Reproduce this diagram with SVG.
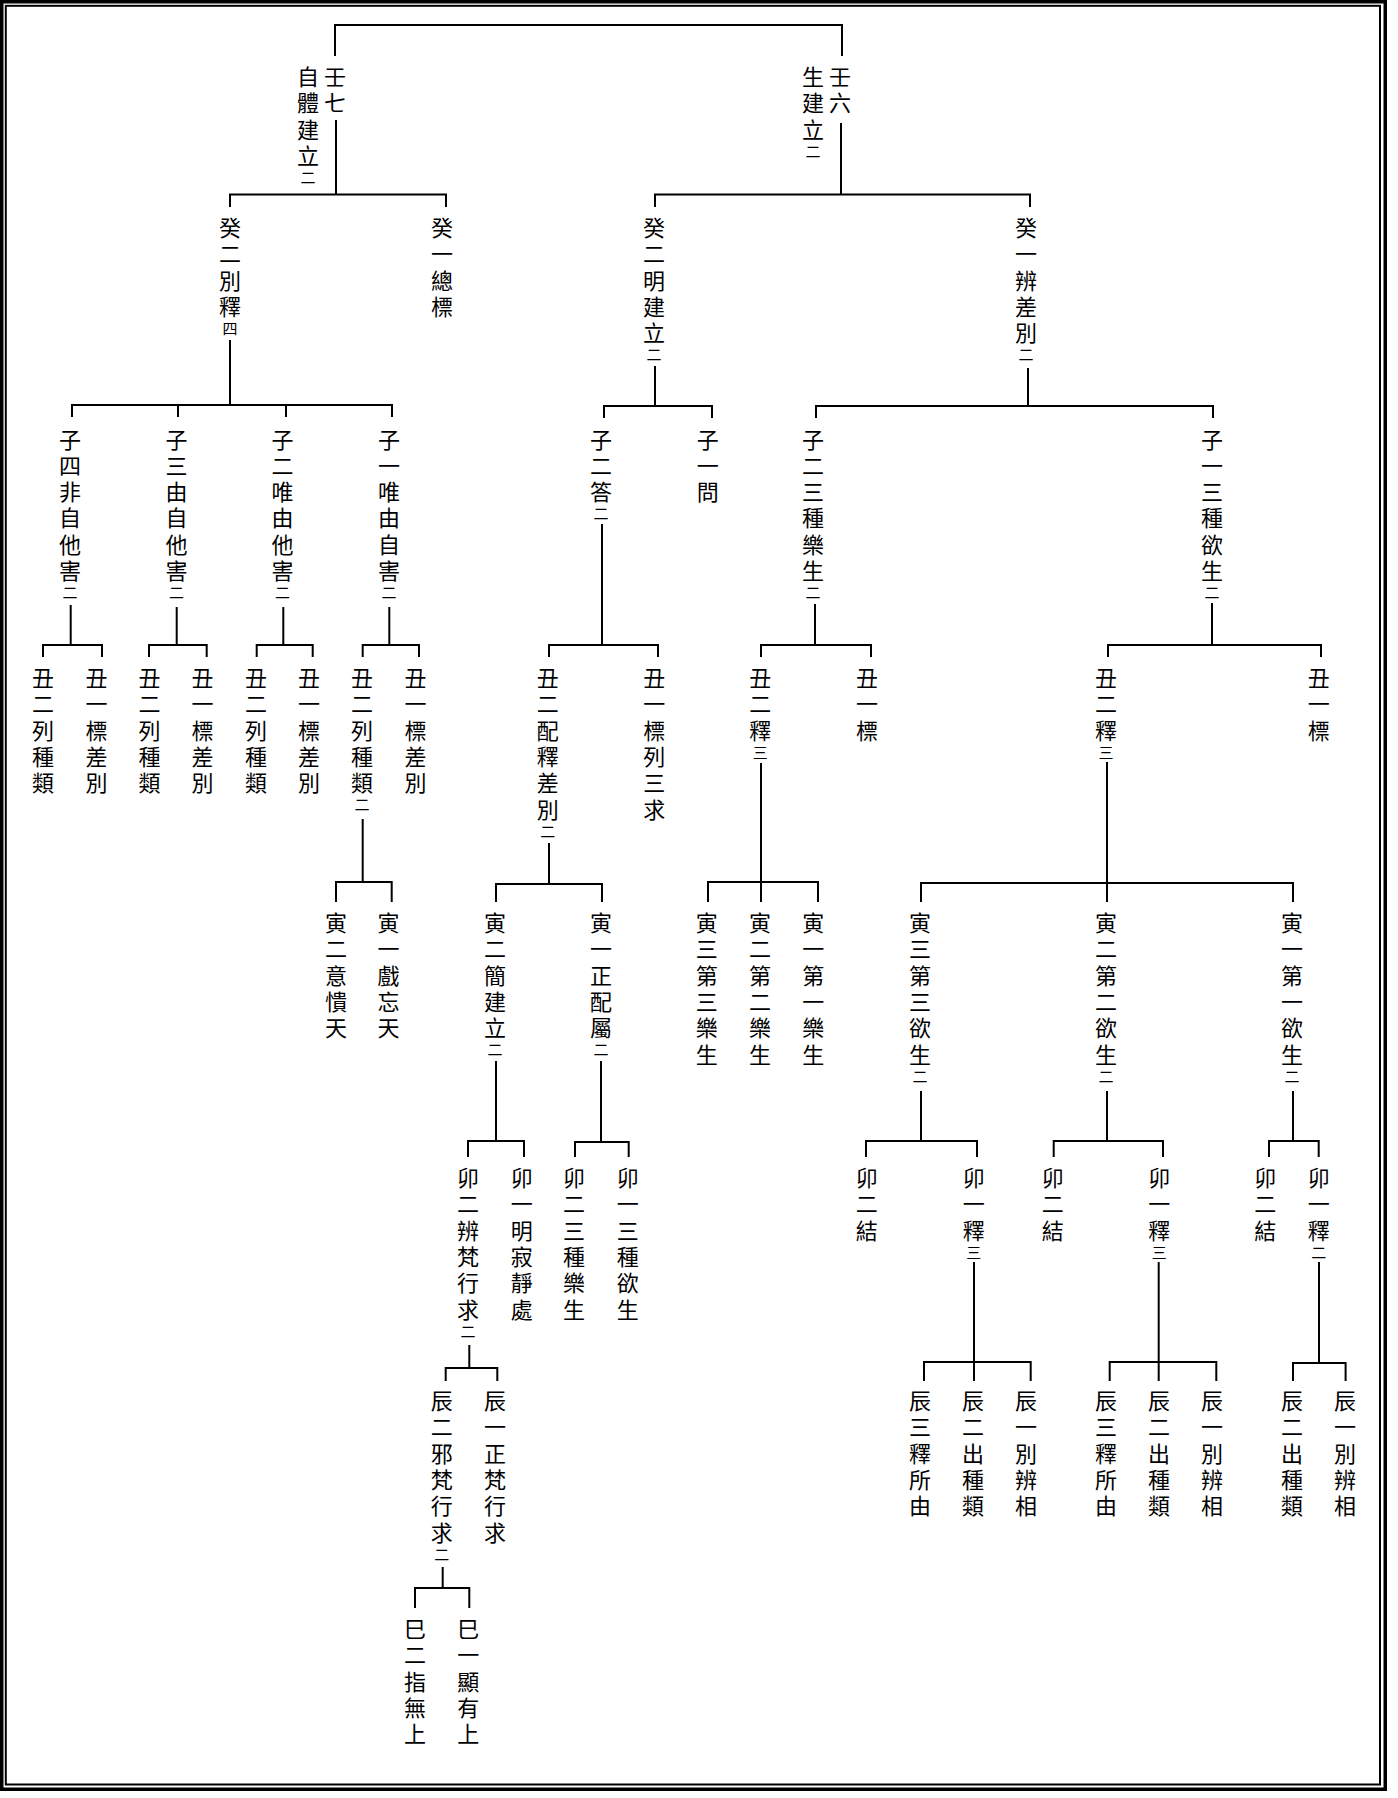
<svg xmlns="http://www.w3.org/2000/svg" width="1398" height="1798" viewBox="0 0 1398 1798">
<style>
.t{font-family:"Noto Sans CJK TC","Noto Sans CJK JP",sans-serif;font-size:22px;text-anchor:middle;dominant-baseline:central;fill:#000}
.s{font-size:15px}
.c path{fill:none;stroke:#000;stroke-width:2}
</style>
<rect x="0" y="0" width="1398" height="1798" fill="#fff"/>
<rect x="1.75" y="1.75" width="1383.5" height="1787.5" fill="none" stroke="#000" stroke-width="3.5"/>
<rect x="5.8" y="5.8" width="1374.2" height="1778.7" fill="none" stroke="#000" stroke-width="2"/>
<g class="c" id="connectors">
<path d="M335,56 V25 H842 V56"/>
<path d="M336,120 V194.5"/><path d="M230,207 V194.5 H446 V207"/>
<path d="M841,123 V194.5"/><path d="M655,207 V194.5 H1030 V207"/>
<path d="M230,340 V405"/><path d="M72,417 V405 H392 V417"/><path d="M178,405 V417"/><path d="M286,405 V417"/>
<path d="M655,366 V406"/><path d="M604,418 V406 H712 V418"/>
<path d="M1028,368 V406"/><path d="M816,418 V406 H1213 V418"/>
<path d="M70.7,605 V645"/><path d="M43,657 V645 H102 V657"/>
<path d="M176.7,607 V645"/><path d="M149,657 V645 H206.7 V657"/>
<path d="M283.3,607 V645"/><path d="M256.7,657 V645 H312.7 V657"/>
<path d="M389.3,607 V645"/><path d="M362.7,657 V645 H419 V657"/>
<path d="M362.7,819 V882"/><path d="M336,902 V882 H391.7 V902"/>
<path d="M602,524 V645"/><path d="M549,657 V645 H658 V657"/>
<path d="M815,604 V645"/><path d="M761,657 V645 H871 V657"/>
<path d="M1212,603 V645"/><path d="M1108,657 V645 H1321 V657"/>
<path d="M549,843 V884"/><path d="M496,902 V884 H602 V902"/>
<path d="M761,763 V902"/><path d="M708,902 V882 H818 V902"/>
<path d="M1107,762 V902"/><path d="M921,902 V883 H1293 V902"/>
<path d="M496,1061 V1141"/><path d="M468,1157 V1141 H524 V1157"/>
<path d="M601,1061 V1142"/><path d="M575,1157 V1142 H628.7 V1157"/>
<path d="M921,1091 V1141"/><path d="M866,1157 V1141 H977 V1157"/>
<path d="M1107,1091 V1141"/><path d="M1053.7,1157 V1141 H1163 V1157"/>
<path d="M1293,1091 V1141"/><path d="M1269,1157 V1141 H1318.7 V1157"/>
<path d="M974,1262 V1381"/><path d="M924,1381 V1362 H1030.7 V1381"/>
<path d="M1158.7,1262 V1381"/><path d="M1109.7,1381 V1362 H1216.3 V1381"/>
<path d="M1319,1262 V1363"/><path d="M1293,1381 V1363 H1345.6 V1381"/>
<path d="M469.3,1345 V1368"/><path d="M445.7,1381 V1368 H497.3 V1381"/>
<path d="M442.7,1567 V1588"/><path d="M415,1608 V1588 H469.3 V1608"/>
</g>
<g id="n-ren7"><text class="t" x="335 335" y="75 101.3">壬七</text><text class="t" x="308 308 308 308 308" y="75 101.3 127.6 153.9 176">自體建立<tspan class="s">二</tspan></text></g>
<g id="n-ren6"><text class="t" x="840 840" y="75 101.3">壬六</text><text class="t" x="813 813 813 813" y="75 101.3 127.6 149.6">生建立<tspan class="s">二</tspan></text></g>
<g id="n-gui2a"><text class="t" x="230 230 230 230 230" y="226 252.3 278.6 304.9 326.9">癸二別釋<tspan class="s">四</tspan></text></g>
<g id="n-gui1a"><text class="t" x="442 442 442 442" y="226 252.3 278.6 304.9">癸一總標</text></g>
<g id="n-gui2b"><text class="t" x="654 654 654 654 654 654" y="226 252.3 278.6 304.9 331.2 353.2">癸二明建立<tspan class="s">二</tspan></text></g>
<g id="n-gui1b"><text class="t" x="1026 1026 1026 1026 1026 1026" y="226 252.3 278.6 304.9 331.2 353.2">癸一辨差別<tspan class="s">二</tspan></text></g>
<g id="n-zi4"><text class="t" x="70 70 70 70 70 70 70" y="437.5 463.8 490.1 516.4 542.7 569 591">子四非自他害<tspan class="s">二</tspan></text></g>
<g id="n-zi3"><text class="t" x="176.5 176.5 176.5 176.5 176.5 176.5 176.5" y="437.5 463.8 490.1 516.4 542.7 569 591">子三由自他害<tspan class="s">二</tspan></text></g>
<g id="n-zi2a"><text class="t" x="282.5 282.5 282.5 282.5 282.5 282.5 282.5" y="437.5 463.8 490.1 516.4 542.7 569 591">子二唯由他害<tspan class="s">二</tspan></text></g>
<g id="n-zi1a"><text class="t" x="389 389 389 389 389 389 389" y="437.5 463.8 490.1 516.4 542.7 569 591">子一唯由自害<tspan class="s">二</tspan></text></g>
<g id="n-zi2b"><text class="t" x="601 601 601 601" y="437.5 463.8 490.1 512.1">子二答<tspan class="s">二</tspan></text></g>
<g id="n-zi1b"><text class="t" x="707.7 707.7 707.7" y="437.5 463.8 490.1">子一問</text></g>
<g id="n-zi2c"><text class="t" x="813 813 813 813 813 813 813" y="437.5 463.8 490.1 516.4 542.7 569 591">子二三種樂生<tspan class="s">二</tspan></text></g>
<g id="n-zi1c"><text class="t" x="1212 1212 1212 1212 1212 1212 1212" y="437.5 463.8 490.1 516.4 542.7 569 591">子一三種欲生<tspan class="s">二</tspan></text></g>
<g id="n-chou2a"><text class="t" x="43 43 43 43 43" y="676 702.3 728.6 754.9 781.2">丑二列種類</text></g>
<g id="n-chou1a"><text class="t" x="96.5 96.5 96.5 96.5 96.5" y="676 702.3 728.6 754.9 781.2">丑一標差別</text></g>
<g id="n-chou2b"><text class="t" x="149.5 149.5 149.5 149.5 149.5" y="676 702.3 728.6 754.9 781.2">丑二列種類</text></g>
<g id="n-chou1b"><text class="t" x="202.5 202.5 202.5 202.5 202.5" y="676 702.3 728.6 754.9 781.2">丑一標差別</text></g>
<g id="n-chou2c"><text class="t" x="256 256 256 256 256" y="676 702.3 728.6 754.9 781.2">丑二列種類</text></g>
<g id="n-chou1c"><text class="t" x="309 309 309 309 309" y="676 702.3 728.6 754.9 781.2">丑一標差別</text></g>
<g id="n-chou2d"><text class="t" x="362 362 362 362 362 362" y="676 702.3 728.6 754.9 781.2 803.2">丑二列種類<tspan class="s">二</tspan></text></g>
<g id="n-chou1d"><text class="t" x="415.5 415.5 415.5 415.5 415.5" y="676 702.3 728.6 754.9 781.2">丑一標差別</text></g>
<g id="n-chou2e"><text class="t" x="547.7 547.7 547.7 547.7 547.7 547.7 547.7" y="676 702.3 728.6 754.9 781.2 807.5 829.5">丑二配釋差別<tspan class="s">二</tspan></text></g>
<g id="n-chou1e"><text class="t" x="654.3 654.3 654.3 654.3 654.3 654.3" y="676 702.3 728.6 754.9 781.2 807.5">丑一標列三求</text></g>
<g id="n-chou2f"><text class="t" x="760.3 760.3 760.3 760.3" y="676 702.3 728.6 750.6">丑二釋<tspan class="s">三</tspan></text></g>
<g id="n-chou1f"><text class="t" x="867 867 867" y="676 702.3 728.6">丑一標</text></g>
<g id="n-chou2g"><text class="t" x="1106 1106 1106 1106" y="676 702.3 728.6 750.6">丑二釋<tspan class="s">三</tspan></text></g>
<g id="n-chou1g"><text class="t" x="1318.7 1318.7 1318.7" y="676 702.3 728.6">丑一標</text></g>
<g id="n-yin2a"><text class="t" x="336 336 336 336 336" y="921 947.3 973.6 999.9 1026.2">寅二意憒天</text></g>
<g id="n-yin1a"><text class="t" x="388.5 388.5 388.5 388.5 388.5" y="921 947.3 973.6 999.9 1026.2">寅一戲忘天</text></g>
<g id="n-yin2b"><text class="t" x="495 495 495 495 495 495" y="921 947.3 973.6 999.9 1026.2 1048.2">寅二簡建立<tspan class="s">二</tspan></text></g>
<g id="n-yin1b"><text class="t" x="601 601 601 601 601 601" y="921 947.3 973.6 999.9 1026.2 1048.2">寅一正配屬<tspan class="s">二</tspan></text></g>
<g id="n-yin3c"><text class="t" x="706.7 706.7 706.7 706.7 706.7 706.7" y="921 947.3 973.6 999.9 1026.2 1052.5">寅三第三樂生</text></g>
<g id="n-yin2c"><text class="t" x="760 760 760 760 760 760" y="921 947.3 973.6 999.9 1026.2 1052.5">寅二第二樂生</text></g>
<g id="n-yin1c"><text class="t" x="813.3 813.3 813.3 813.3 813.3 813.3" y="921 947.3 973.6 999.9 1026.2 1052.5">寅一第一樂生</text></g>
<g id="n-yin3d"><text class="t" x="920 920 920 920 920 920 920" y="921 947.3 973.6 999.9 1026.2 1052.5 1074.5">寅三第三欲生<tspan class="s">二</tspan></text></g>
<g id="n-yin2d"><text class="t" x="1106 1106 1106 1106 1106 1106 1106" y="921 947.3 973.6 999.9 1026.2 1052.5 1074.5">寅二第二欲生<tspan class="s">二</tspan></text></g>
<g id="n-yin1d"><text class="t" x="1292 1292 1292 1292 1292 1292 1292" y="921 947.3 973.6 999.9 1026.2 1052.5 1074.5">寅一第一欲生<tspan class="s">二</tspan></text></g>
<g id="n-mao2a"><text class="t" x="468 468 468 468 468 468 468" y="1176 1202.3 1228.6 1254.9 1281.2 1307.5 1329.5">卯二辨梵行求<tspan class="s">二</tspan></text></g>
<g id="n-mao1a"><text class="t" x="521.7 521.7 521.7 521.7 521.7 521.7" y="1176 1202.3 1228.6 1254.9 1281.2 1307.5">卯一明寂靜處</text></g>
<g id="n-mao2b"><text class="t" x="574 574 574 574 574 574" y="1176 1202.3 1228.6 1254.9 1281.2 1307.5">卯二三種樂生</text></g>
<g id="n-mao1b"><text class="t" x="627.7 627.7 627.7 627.7 627.7 627.7" y="1176 1202.3 1228.6 1254.9 1281.2 1307.5">卯一三種欲生</text></g>
<g id="n-mao2c"><text class="t" x="866.7 866.7 866.7" y="1176 1202.3 1228.6">卯二結</text></g>
<g id="n-mao1c"><text class="t" x="973.7 973.7 973.7 973.7" y="1176 1202.3 1228.6 1250.6">卯一釋<tspan class="s">三</tspan></text></g>
<g id="n-mao2d"><text class="t" x="1052.7 1052.7 1052.7" y="1176 1202.3 1228.6">卯二結</text></g>
<g id="n-mao1d"><text class="t" x="1159.3 1159.3 1159.3 1159.3" y="1176 1202.3 1228.6 1250.6">卯一釋<tspan class="s">三</tspan></text></g>
<g id="n-mao2e"><text class="t" x="1265.3 1265.3 1265.3" y="1176 1202.3 1228.6">卯二結</text></g>
<g id="n-mao1e"><text class="t" x="1318.7 1318.7 1318.7 1318.7" y="1176 1202.3 1228.6 1250.6">卯一釋<tspan class="s">二</tspan></text></g>
<g id="n-chen2a"><text class="t" x="441.7 441.7 441.7 441.7 441.7 441.7 441.7" y="1399 1425.3 1451.6 1477.9 1504.2 1530.5 1552.5">辰二邪梵行求<tspan class="s">二</tspan></text></g>
<g id="n-chen1a"><text class="t" x="495 495 495 495 495 495" y="1399 1425.3 1451.6 1477.9 1504.2 1530.5">辰一正梵行求</text></g>
<g id="n-chen3b"><text class="t" x="920 920 920 920 920" y="1399 1425.3 1451.6 1477.9 1504.2">辰三釋所由</text></g>
<g id="n-chen2b"><text class="t" x="973 973 973 973 973" y="1399 1425.3 1451.6 1477.9 1504.2">辰二出種類</text></g>
<g id="n-chen1b"><text class="t" x="1026 1026 1026 1026 1026" y="1399 1425.3 1451.6 1477.9 1504.2">辰一別辨相</text></g>
<g id="n-chen3c"><text class="t" x="1106 1106 1106 1106 1106" y="1399 1425.3 1451.6 1477.9 1504.2">辰三釋所由</text></g>
<g id="n-chen2c"><text class="t" x="1159 1159 1159 1159 1159" y="1399 1425.3 1451.6 1477.9 1504.2">辰二出種類</text></g>
<g id="n-chen1c"><text class="t" x="1212 1212 1212 1212 1212" y="1399 1425.3 1451.6 1477.9 1504.2">辰一別辨相</text></g>
<g id="n-chen2d"><text class="t" x="1292 1292 1292 1292 1292" y="1399 1425.3 1451.6 1477.9 1504.2">辰二出種類</text></g>
<g id="n-chen1d"><text class="t" x="1345 1345 1345 1345 1345" y="1399 1425.3 1451.6 1477.9 1504.2">辰一別辨相</text></g>
<g id="n-si2"><text class="t" x="415 415 415 415 415" y="1627 1653.3 1679.6 1705.9 1732.2">巳二指無上</text></g>
<g id="n-si1"><text class="t" x="468.3 468.3 468.3 468.3 468.3" y="1627 1653.3 1679.6 1705.9 1732.2">巳一顯有上</text></g>
</svg>
